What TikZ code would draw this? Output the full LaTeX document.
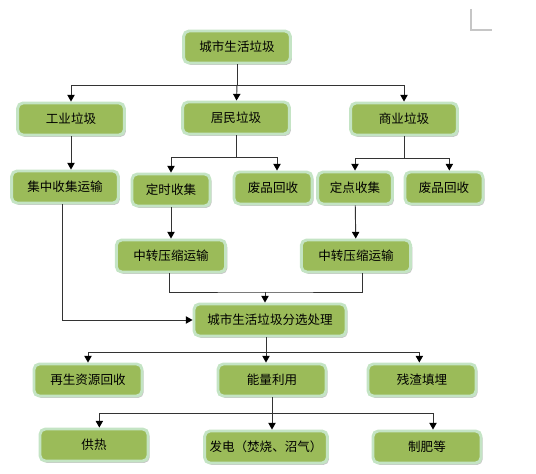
\documentclass[tikz,border=0pt]{standalone}
\usepackage{fontspec}
\newfontfamily\cjk{Noto Sans CJK SC}
\usetikzlibrary{arrows.meta,shadows}
\definecolor{boxfill}{RGB}{155,187,89}
\definecolor{boxrim}{RGB}{196,228,196}

\begin{document}
\begin{tikzpicture}[x=0.75pt, y=-0.75pt,
  every node/.style={font=\cjk\fontsize{9.4}{11}\selectfont},
  box/.style={draw=boxrim, fill=boxfill, line width=2.2pt, rounded corners=4pt,
    minimum width=80pt, minimum height=24pt, inner sep=0pt,
    drop shadow={shadow xshift=1.2pt, shadow yshift=-1.4pt, fill=black, opacity=0.22}},
  link/.style={line width=0.7pt, black!80},
  arr/.style={link, -{Triangle[width=5.5pt,length=5pt,color=black]}}]
  \useasboundingbox (0,0) rectangle (536,474);
  % page corner mark
  \draw[gray!45, line width=1.1pt] (471,9) -- (471,30) -- (492,30);

  % level 1 and 2
  \node[box] (city) at (237,47) {城市生活垃圾};
  \node[box] (ind) at (71,119) {工业垃圾};
  \node[box] (res) at (236,118) {居民垃圾};
  \node[box] (com) at (404,119) {商业垃圾};
  % collection
  \node[box] (jz) at (65,187) {集中收集运输};
  \node[box, minimum width=58.5pt] (ds) at (171,190) {定时收集};
  \node[box, minimum width=58.5pt] (fp1) at (273,188) {废品回收};
  \node[box, minimum width=56pt] (dd) at (355,188) {定点收集};
  \node[box, minimum width=58.5pt] (fp2) at (444,188) {废品回收};
  \node[box, minimum width=82pt] (zz1) at (171,256) {中转压缩运输};
  \node[box, minimum width=82pt] (zz2) at (356,256) {中转压缩运输};
  % sorting and use
  \node[box, minimum width=114pt] (fx) at (270,320) {城市生活垃圾分选处理};
  \node[box, minimum width=81pt] (zy) at (88,380) {再生资源回收};
  \node[box, minimum width=81pt] (nl) at (272,380) {能量利用};
  \node[box, minimum width=81pt] (cz) at (422,380) {残渣填埋};
  \node[box, minimum width=81pt] (gr) at (94,445) {供热};
  \node[box, minimum width=92pt] (fd) at (266,447) {发电（焚烧、沼气）};
  \node[box, minimum width=81pt] (zf) at (427,447) {制肥等};

  % branch points
  \coordinate (b1) at (237,85);
  \coordinate (b2) at (236,157);
  \coordinate (b3) at (404,158);
  \coordinate (b4) at (265,292);
  \coordinate (b5) at (266,352);
  \coordinate (b6) at (272,413);

  \draw[link] (city) -- (b1);
  \draw[arr] (b1) -| (ind);
  \draw[arr] (b1) -- (res);
  \draw[arr] (b1) -| (com);

  \draw[arr] (ind) -- (ind |- jz.north);
  \draw[link] (res) -- (b2);
  \draw[arr] (b2) -| (ds);
  \draw[arr] (b2) -| ([xshift=3pt]fp1.north);
  \draw[link] (com) -- (b3);
  \draw[arr] (b3) -| (dd);
  \draw[arr] (b3) -| ([xshift=4pt]fp2.north);

  \draw[arr] (ds) -- (zz1);
  \draw[arr] (dd) -- (zz2);
  \draw[link] ([xshift=-1.5pt]zz1.south) |- (b4) -| ([xshift=4.5pt]zz2.south);
  \draw[arr] (b4) -- (b4 |- fx.north);
  \draw[arr] ([xshift=-2pt]jz.south) |- (fx.west);

  \draw[link] (fx.south -| b5) -- (b5);
  \draw[arr] (b5) -| (zy);
  \draw[arr] (b5) -- (b5 |- nl.north);
  \draw[arr] (b5) -| ([xshift=-2pt]cz.north);

  \draw[link] (nl) -- (b6);
  \draw[arr] (b6) -| ([xshift=4pt]gr.north);
  \draw[arr] (b6) -- (b6 |- fd.north);
  \draw[arr] (b6) -| ([xshift=4.5pt]zf.north);
\end{tikzpicture}
\end{document}
